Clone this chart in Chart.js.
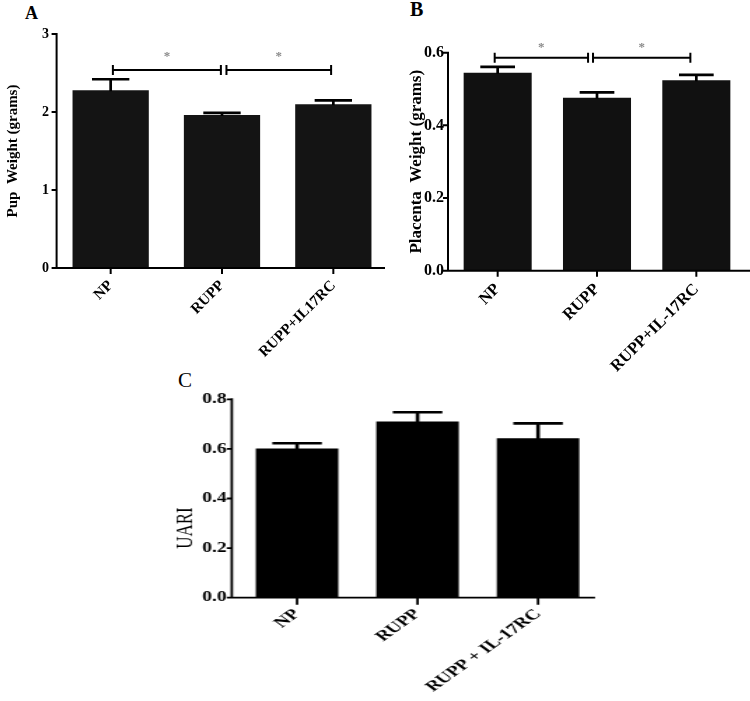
<!DOCTYPE html>
<html>
<head>
<meta charset="utf-8">
<script src="https://cdn.jsdelivr.net/npm/chart.js@4.4.1/dist/chart.umd.min.js"></script>
<style>
  body { margin: 0; background: #fff; width: 750px; height: 701px; position: relative; overflow: hidden; }
  canvas { position: absolute; }
  .letter { position: absolute; font-family: "Liberation Serif", "Times New Roman", serif; line-height: 1; color: #000; }
  #wrapC { position: absolute; left: 150px; top: 360px; width: 325px; height: 341px; transform: scaleX(1.4); transform-origin: 0 0; }
</style>
</head>
<body>
<div class="letter" style="left:25px;top:4px;font-size:18px;font-weight:bold">A</div>
<div class="letter" style="left:410px;top:-1px;font-size:20px;font-weight:bold">B</div>
<div class="letter" style="left:178px;top:370px;font-size:21px">C</div>
<canvas id="chartA" width="392" height="372" style="left:0;top:0"></canvas>
<canvas id="chartB" width="375" height="380" style="left:375px;top:0"></canvas>
<div id="wrapC"><canvas id="chartC" width="325" height="341" style="left:0;top:0"></canvas></div>
<script>
// panel A - pup weight
const categoriesA = ["NP", "RUPP", "RUPP+IL17RC"];
const pupWeight = [2.28, 1.96, 2.10];
const pupWeightSem = [0.14, 0.03, 0.05];
const ticksA = ["0", "1", "2", "3"];
const sigA = [[0.02, 0.99], [1.04, 1.98]];
const sigAHeight = 2.54;

// panel B - placenta weight
const categoriesB = ["NP", "RUPP", "RUPP+IL-17RC"];
const placentaWeight = [0.545, 0.476, 0.524];
const placentaWeightSem = [0.016, 0.015, 0.015];
const ticksB = ["0.0", "0.2", "0.4", "0.6"];
const sigB = [[-0.03, 0.91], [0.96, 1.94]];
const sigBHeight = 0.586;

// panel C - UARI
const categoriesC = ["NP", "RUPP", "RUPP + IL-17RC"];
const uari = [0.602, 0.710, 0.643];
const uariSem = [0.021, 0.038, 0.060];
const ticksC = ["0.0", "0.2", "0.4", "0.6", "0.8"];

const serif = '"Liberation Serif", "Times New Roman", serif';
Chart.defaults.font.family = serif;
Chart.defaults.color = "#000";

//error bars, axes, brackets drawn on top of the bars
const extras = {
  id: "extras",
  afterDatasetsDraw(chart, args, o) {
    const { ctx, chartArea: area } = chart;
    const x = chart.scales.x, y = chart.scales.y;
    const bars = chart.getDatasetMeta(0).data;
    const values = chart.data.datasets[0].data;
    ctx.save();
    ctx.strokeStyle = "#000";
    //upper error bars only
    ctx.lineWidth = o.errWidth;
    bars.forEach((bar, i) => {
      const yTop = y.getPixelForValue(values[i] + o.sem[i]);
      const half = (bar.width * o.capRatio) / 2;
      ctx.beginPath();
      ctx.moveTo(bar.x, bar.y + 1);
      ctx.lineTo(bar.x, yTop);
      ctx.moveTo(bar.x - half, yTop);
      ctx.lineTo(bar.x + half, yTop);
      ctx.stroke();
    });
    //axis lines with outside ticks
    const ax = area.left + o.axisShift;
    const base = y.getPixelForValue(0);
    ctx.lineWidth = o.axisWidth;
    ctx.beginPath();
    ctx.moveTo(ax, y.getPixelForValue(y.max) - 1);
    ctx.lineTo(ax, base);
    ctx.lineTo(area.right + o.axisEnd, base);
    y.ticks.forEach((t) => {
      const py = y.getPixelForValue(t.value);
      ctx.moveTo(ax - o.yTick, py);
      ctx.lineTo(ax, py);
    });
    values.forEach((v, i) => {
      const px = x.getPixelForValue(i);
      ctx.moveTo(px, base);
      ctx.lineTo(px, base + o.xTick);
    });
    ctx.stroke();
    //significance brackets
    if (o.brackets) {
      const by = y.getPixelForValue(o.bracketHeight);
      ctx.lineWidth = 2;
      o.brackets.forEach(([a, b]) => {
        const x1 = x.getPixelForValue(a), x2 = x.getPixelForValue(b);
        ctx.beginPath();
        ctx.moveTo(x1, by); ctx.lineTo(x2, by);
        ctx.moveTo(x1, by - 5); ctx.lineTo(x1, by + 5);
        ctx.moveTo(x2, by - 5); ctx.lineTo(x2, by + 5);
        ctx.stroke();
        ctx.fillStyle = "#8a8a8a";
        ctx.font = "bold 13px " + serif;
        ctx.textAlign = "center";
        ctx.textBaseline = "alphabetic";
        ctx.fillText("*", (x1 + x2) / 2, by - o.starGap);
      });
    }
    //free placed axis title
    if (o.yTitle) {
      ctx.fillStyle = "#000";
      ctx.font = o.yTitle.font;
      ctx.textAlign = "center";
      ctx.textBaseline = "middle";
      ctx.translate(o.yTitle.x, o.yTitle.y);
      ctx.rotate(-Math.PI / 2);
      ctx.fillText(o.yTitle.text, 0, 0);
    }
    ctx.restore();
  },
};

function makeChart(id, p) {
  return new Chart(document.getElementById(id), {
    type: "bar",
    plugins: [extras],
    data: {
      labels: p.labels,
      datasets: [{ data: p.values, backgroundColor: p.color, barPercentage: 0.685, categoryPercentage: 1 }],
    },
    options: {
      responsive: false,
      animation: false,
      layout: { padding: { top: p.padTop, right: p.padRight, left: 0, bottom: 0 } },
      plugins: {
        legend: { display: false },
        tooltip: { enabled: false },
        extras: p.extras,
      },
      scales: {
        x: {
          grid: { display: false, drawTicks: false },
          border: { display: false },
          ticks: { font: { size: p.xFont, weight: "bold" }, minRotation: 45, maxRotation: 45, padding: p.xPad, autoSkip: false },
          afterFit: (s) => { s.height = p.xHeight; },
        },
        y: {
          min: 0,
          max: parseFloat(p.ticks[p.ticks.length - 1]),
          grid: { display: false, drawTicks: false },
          border: { display: false },
          afterBuildTicks: (s) => { s.ticks = p.ticks.map((t) => ({ value: parseFloat(t) })); },
          ticks: { font: { size: p.yFont, weight: "bold" }, padding: p.yPad, autoSkip: false, callback: (v, i) => p.ticks[i] },
          title: p.title
            ? { display: true, text: p.title, font: { size: p.titleSize, weight: "bold" }, padding: { top: p.titlePad, bottom: 0 } }
            : { display: false },
          afterFit: (s) => { s.width = p.yWidth; },
        },
      },
    },
  });
}

makeChart("chartA", {
  labels: categoriesA, values: pupWeight, color: "#141414", ticks: ticksA,
  padTop: 34, padRight: 3, xHeight: 104, yWidth: 55,
  xFont: 15, xPad: 9, yFont: 14, yPad: 6,
  title: "Pup  Weight (grams)", titleSize: 15, titlePad: 4.5,
  extras: { sem: pupWeightSem, capRatio: 0.49, errWidth: 2.7, axisShift: 1.6, axisEnd: -4, axisWidth: 2, yTick: 5, xTick: 6,
            brackets: sigA, bracketHeight: sigAHeight, starGap: 10 },
});

makeChart("chartB", {
  labels: categoriesB, values: placentaWeight, color: "#111", ticks: ticksB,
  padTop: 52.7, padRight: 4, xHeight: 109.3, yWidth: 73,
  xFont: 16.5, xPad: 9, yFont: 16, yPad: 4,
  title: "Placenta  Weight (grams)", titleSize: 17, titlePad: 31.8,
  extras: { sem: placentaWeightSem, capRatio: 0.51, errWidth: 2.7, axisShift: 0, axisEnd: 4, axisWidth: 2, yTick: 5, xTick: 6,
            brackets: sigB, bracketHeight: sigBHeight, starGap: 7 },
});

makeChart("chartC", {
  labels: categoriesC, values: uari, color: "#000", ticks: ticksC,
  padTop: 39.3, padRight: 4.8, xHeight: 103.3, yWidth: 62,
  xFont: 14.5, xPad: 8, yFont: 14, yPad: 7.2,
  extras: { sem: uariSem, capRatio: 0.6, errWidth: 2.6, axisShift: -3.6, axisEnd: -2.3, axisWidth: 1.8, yTick: 3.6, xTick: 7,
            yTitle: { text: "UARI", x: 25.7, y: 168, font: "17px " + serif } },
});
</script>
</body>
</html>
